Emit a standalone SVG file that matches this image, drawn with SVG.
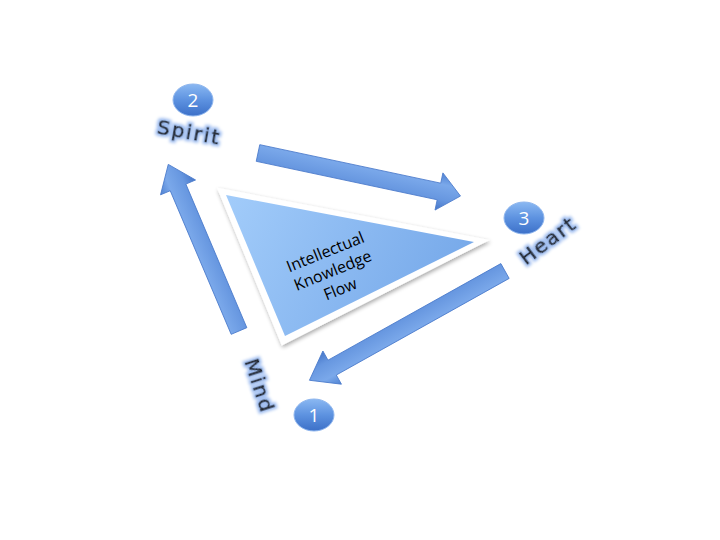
<svg xmlns="http://www.w3.org/2000/svg" width="720" height="540" viewBox="0 0 720 540">
<defs>
<linearGradient id="arrowG" x1="0" y1="0" x2="0" y2="1">
<stop offset="0" stop-color="#4f82d2"/>
<stop offset="0.3" stop-color="#7aa8ea"/>
<stop offset="0.7" stop-color="#6797e0"/>
<stop offset="1" stop-color="#4676c8"/>
</linearGradient>
<linearGradient id="triG" x1="0" y1="0" x2="1" y2="0.3">
<stop offset="0" stop-color="#a2ccfa"/>
<stop offset="1" stop-color="#78aaea"/>
</linearGradient>
<linearGradient id="circG" x1="0" y1="0" x2="0" y2="1">
<stop offset="0" stop-color="#8ab8f2"/>
<stop offset="0.5" stop-color="#5d92e0"/>
<stop offset="1" stop-color="#3c70c8"/>
</linearGradient>
<filter id="sh" x="-20%" y="-20%" width="140%" height="140%">
<feGaussianBlur in="SourceAlpha" stdDeviation="2"/>
<feOffset dx="1" dy="2" result="b"/>
<feComponentTransfer><feFuncA type="linear" slope="0.35"/></feComponentTransfer>
<feMerge><feMergeNode/><feMergeNode in="SourceGraphic"/></feMerge>
</filter>
<filter id="glow" x="-30%" y="-30%" width="160%" height="160%">
<feMorphology in="SourceAlpha" operator="dilate" radius="2" result="d"/>
<feGaussianBlur in="d" stdDeviation="1.5" result="g"/>
<feFlood flood-color="#9dbcf0"/>
<feComposite in2="g" operator="in"/>
<feMerge><feMergeNode/><feMergeNode in="SourceGraphic"/></feMerge>
</filter>
</defs>
<style>
.arrow{fill:url(#arrowG);stroke:#4a7acb;stroke-width:0.8}
.circ{fill:url(#circG);stroke:#8fb6ee;stroke-width:1}
.num{font-family:"Open Sans","Liberation Sans",sans-serif;font-size:19px;fill:#ffffff;text-anchor:middle}
.lbl{font-family:"DejaVu Sans","Liberation Sans",sans-serif;font-size:20px;fill:#22262e;stroke:#22262e;stroke-width:0.6;text-anchor:middle;letter-spacing:2px}
.ctr{font-family:"Open Sans","Liberation Sans",sans-serif;font-size:16px;fill:#000000;text-anchor:middle}
</style>

<g id="triangle">
<polygon points="221,191 482,241 283,342" fill="#ffffff" stroke="#ffffff" stroke-width="5" stroke-linejoin="miter" filter="url(#sh)"/>
<polygon points="226,195 474,242 285,336" fill="url(#triG)"/>
<g transform="translate(333,271) rotate(-22)">
<text class="ctr" x="0" y="-15">Intellectual</text>
<text class="ctr" x="0" y="5">Knowledge</text>
<text class="ctr" x="0" y="25">Flow</text>
</g>
</g>

<g id="connectors">
<path class="arrow" transform="translate(258,153) rotate(12)" d="M0,-8.5 L185,-8.5 L185,-19 L207,0 L185,19 L185,8.5 L0,8.5 Z"/>
<path class="arrow" transform="translate(505,271) rotate(150.8)" d="M0,-8.5 L198,-8.5 L198,-19 L224,0 L198,19 L198,8.5 L0,8.5 Z"/>
<path class="arrow" transform="translate(239,331) rotate(-113)" d="M0,-8.5 L156,-8.5 L156,-19 L181,0 L156,19 L156,8.5 L0,8.5 Z"/>
</g>

<g id="node-spirit">
<ellipse class="circ" cx="193" cy="100" rx="20" ry="16"/>
<text class="num" x="193" y="107">2</text>
<text class="lbl" transform="translate(188,139) rotate(10)" filter="url(#glow)">Spirit</text>
</g>

<g id="node-heart">
<ellipse class="circ" cx="524" cy="218" rx="20" ry="16"/>
<text class="num" x="524" y="225">3</text>
<text class="lbl" transform="translate(552,246) rotate(-37)" filter="url(#glow)">Heart</text>
</g>

<g id="node-mind">
<ellipse class="circ" cx="314" cy="415" rx="20" ry="16"/>
<text class="num" x="314" y="422">1</text>
<text class="lbl" transform="translate(253,388) rotate(72)" filter="url(#glow)">Mind</text>
</g>
</svg>
